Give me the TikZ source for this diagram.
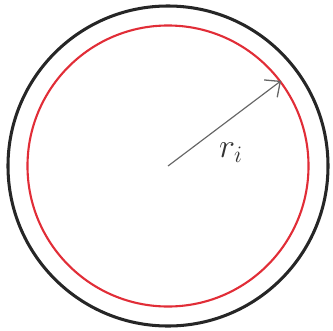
\documentclass[tikz,border=0pt]{standalone}
\usepackage{amsmath,amssymb}
\usetikzlibrary{arrows.meta}

\definecolor{rimred}{RGB}{225,45,55}

\begin{document}
\begin{tikzpicture}[
  x=0.03cm, y=-0.03cm,
  ring/.style={draw, circle, inner sep=0pt},
  outer/.style={ring, line width=2.6pt, black!85, minimum size=9.6cm},
  inner/.style={ring, line width=1.8pt, rimred, minimum size=8.43cm},
  radius/.style={draw, ->, line width=1pt, black!60,
                 >={Straight Barb[length=3.6mm, width=6.5mm, line width=1.1pt]}}
]
  \useasboundingbox (0,0) rectangle (333,330);

  \coordinate (c) at (168,166);
  \node[outer] (out) at (c) {};
  \node[inner] (in)  at (c) {};

  \draw[radius] (c) -- (in.37);
  \node[black!80, font=\huge, scale=1.4] (ri) at (231,153) {$r_i$};
\end{tikzpicture}
\end{document}
